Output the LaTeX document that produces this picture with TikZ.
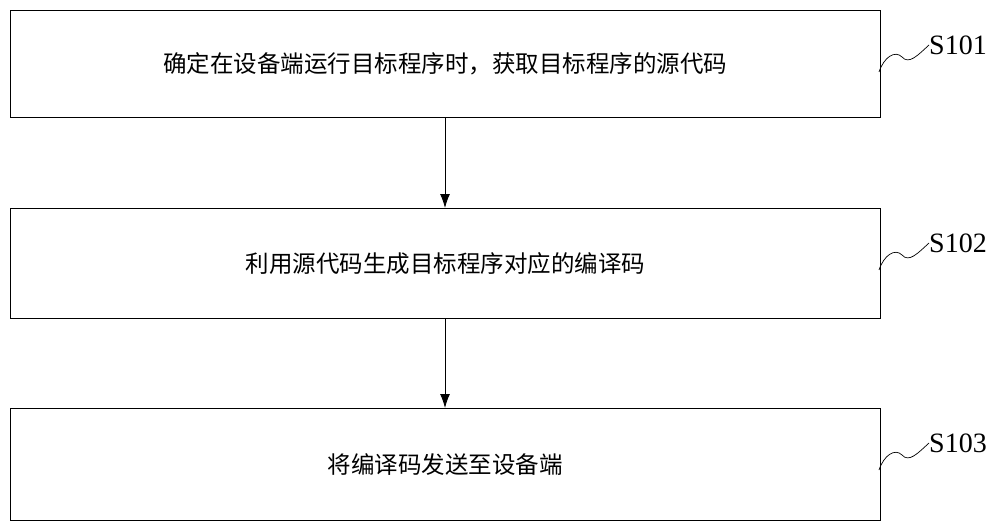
\documentclass[tikz,border=0pt]{standalone}
\usepackage{fontspec}
\usetikzlibrary{arrows.meta}
\setmainfont{Liberation Serif}
\newfontfamily\cjk{Noto Sans CJK SC}
\begin{document}
\begin{tikzpicture}[x=1pt,y=-1pt,
  box/.style={draw,line width=0.8pt,minimum width=870pt,anchor=north west,inner sep=0pt,font=\cjk\fontsize{23.5}{24}\selectfont},
  arr/.style={-{Latex[length=14pt,width=10pt]},line width=0.9pt},
  lab/.style={font=\fontsize{28}{28}\selectfont,anchor=west,inner sep=0pt}]
\useasboundingbox (0,0) rectangle (1000,532);
\node[box,minimum height=107pt] (b1) at (10,10) {确定在设备端运行目标程序时，获取目标程序的源代码};
\node[box,minimum height=110pt] (b2) at (10,208) {利用源代码生成目标程序对应的编译码};
\node[box,minimum height=112pt] (b3) at (10,408) {将编译码发送至设备端};
\draw[arr] (b1.south -| 445,0) -- (b2.north -| 445,0);
\draw[arr] (b2.south -| 445,0) -- (b3.north -| 445,0);
\foreach \n/\y/\t in {1/45/S101,2/243/S102,3/443/S103}{
  \node[lab] (s\n) at (929,\y) {\t};
  \coordinate (c\n) at (879,\y+27);
  \draw[line width=0.7pt] (c\n) .. controls (884,\y+12) and (895,\y+5) .. (902,\y+12)
     .. controls (909,\y+20) and (918,\y+10) .. (s\n.west);
}
\end{tikzpicture}
\end{document}
